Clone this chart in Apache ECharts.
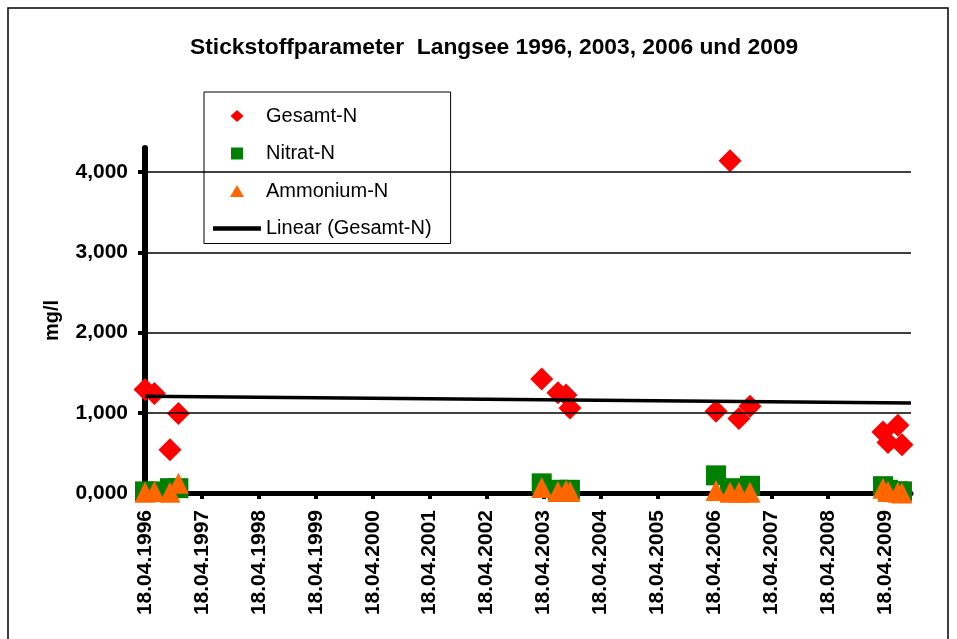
<!DOCTYPE html>
<html>
<head>
<meta charset="utf-8">
<script src="https://cdn.jsdelivr.net/npm/echarts@6/dist/echarts.min.js"></script>
<style>
  html, body { margin: 0; padding: 0; background: #fff; }
  #chart { width: 957px; height: 639px; }
</style>
</head>
<body>
<div id="chart"></div>
<script>
// Probenahmetermine
const sampleDates = [
  '1996-04-18', '1996-06-17', '1996-09-25', '1996-11-18',
  '2003-04-07', '2003-07-20', '2003-09-10', '2003-10-05',
  '2006-04-29', '2006-07-28', '2006-09-23', '2006-12-03',
  '2009-04-04', '2009-05-06', '2009-07-09', '2009-08-04'
];
// mg/l
const gesamtN = [1.29, 1.24, 0.54, 0.99, 1.42, 1.25, 1.22, 1.06, 1.02, 4.14, 0.93, 1.08, 0.76, 0.63, 0.845, 0.60];
const nitratN = [0.02, 0.02, 0.06, 0.06, 0.12, 0.04, 0.03, 0.04, 0.22, 0.06, 0.05, 0.09, 0.085, 0.04, 0.02, 0.02];
const ammoniumN = [0.01, 0.02, 0.01, 0.12, 0.07, 0.02, 0.03, 0.02, 0.03, 0.01, 0.01, 0.01, 0.06, 0.02, 0.01, 0.00];

// Trendlinie (Linear Gesamt-N), Werte an den Achsenenden
const trendDates = ['1996-04-18', '2009-10-01'];
const trendValues = [1.207, 1.123];

const xTickYears = [1996, 1997, 1998, 1999, 2000, 2001, 2002, 2003, 2004, 2005, 2006, 2007, 2008, 2009];
const yTicks = [0, 1, 2, 3, 4];

const FONT = '"Liberation Sans", Arial, sans-serif';
const DAY = 86400000;
const YEAR = 365.25;
const origin = Date.UTC(1996, 3, 18);

function toDays(s) {
  const [y, m, d] = s.split('-').map(Number);
  return (Date.UTC(y, m - 1, d) - origin) / DAY;
}
function pad(n) {
  return n < 10 ? '0' + n : '' + n;
}
function fmtDate(v) {
  const d = new Date(origin + v * DAY);
  return pad(d.getUTCDate()) + '.' + pad(d.getUTCMonth() + 1) + '.' + d.getUTCFullYear();
}

const xDays = sampleDates.map(toDays);
const xTicks = xTickYears.map((y) => (y - xTickYears[0]) * YEAR);
const pts = (vals) => vals.map((v, i) => [xDays[i], v]);

const chart = echarts.init(document.getElementById('chart'));
chart.setOption({
  animation: false,
  backgroundColor: '#fff',
  title: {
    text: 'Stickstoffparameter  Langsee 1996, 2003, 2006 und 2009',
    left: 185,
    top: 31,
    textStyle: { fontSize: 22.8, fontWeight: 'bold', color: '#000', fontFamily: FONT }
  },
  graphic: [
    {
      type: 'rect',
      shape: { x: 8, y: 8, width: 940, height: 650 },
      style: { fill: null, stroke: '#000', lineWidth: 1.5 },
      silent: true
    }
  ],
  legend: {
    orient: 'vertical',
    left: 204,
    top: 92,
    padding: [14, 19, 5, 9],
    itemGap: 17.5,
    itemWidth: 48,
    itemHeight: 12,
    borderColor: '#000',
    borderWidth: 1,
    backgroundColor: '#fff',
    textStyle: { fontSize: 20, color: '#000', fontFamily: FONT },
    // kleine Symbole wie in Excel, Seitenverhältnis über die Pfade
    data: [
      { name: 'Gesamt-N', icon: 'path://M6.5,0L13,6L6.5,12L0,6Z' },
      { name: 'Nitrat-N', icon: 'path://M0,0L11.5,0L11.5,11.5L0,11.5Z' },
      { name: 'Ammonium-N', icon: 'path://M7,0L14,12L0,12Z' },
      { name: 'Linear (Gesamt-N)', icon: 'path://M0,0L48,0L48,4.5L0,4.5Z' }
    ]
  },
  grid: { left: 145, right: 46, top: 148, bottom: 146, outerBoundsMode: 'none' },
  xAxis: {
    type: 'value',
    min: 0,
    max: toDays(trendDates[1]),
    interval: YEAR,
    axisLine: { lineStyle: { color: '#000', width: 5 } },
    axisTick: { length: 6, lineStyle: { color: '#000', width: 4 }, customValues: xTicks },
    axisLabel: {
      customValues: xTicks,
      rotate: 90,
      margin: 17,
      fontSize: 21,
      fontWeight: 'bold',
      color: '#000',
      fontFamily: FONT,
      formatter: fmtDate
    },
    splitLine: { show: false }
  },
  yAxis: {
    type: 'value',
    min: 0,
    max: 4.3,
    interval: 1,
    name: 'mg/l',
    nameLocation: 'middle',
    nameGap: 83,
    nameTextStyle: { fontSize: 20, fontWeight: 'bold', color: '#000', fontFamily: FONT },
    axisLine: { show: true, lineStyle: { color: '#000', width: 6 } },
    axisTick: { show: true, length: 7, lineStyle: { color: '#000', width: 4 }, customValues: yTicks },
    axisLabel: {
      customValues: yTicks,
      margin: 17,
      fontSize: 21,
      fontWeight: 'bold',
      color: '#000',
      fontFamily: FONT,
      formatter: (v) => v.toFixed(3).replace('.', ',')
    },
    splitLine: { show: false }
  },
  series: [
    {
      name: 'Gesamt-N',
      type: 'scatter',
      symbol: 'diamond',
      symbolSize: 23,
      itemStyle: { color: '#ff0000', opacity: 1 },
      data: pts(gesamtN)
    },
    {
      name: 'Nitrat-N',
      type: 'scatter',
      symbol: 'rect',
      symbolSize: 20,
      itemStyle: { color: '#008000', opacity: 1 },
      data: pts(nitratN)
    },
    {
      name: 'Ammonium-N',
      type: 'scatter',
      symbol: 'triangle',
      symbolSize: 21,
      itemStyle: { color: '#ff6600', opacity: 1 },
      data: pts(ammoniumN)
    },
    {
      name: 'Linear (Gesamt-N)',
      type: 'line',
      symbol: 'none',
      z: 5,
      color: '#000',
      itemStyle: { color: '#000' },
      lineStyle: { color: '#000', width: 3.5 },
      data: trendDates.map((d, i) => [toDays(d), trendValues[i]]),
      markLine: {
        silent: true,
        symbol: 'none',
        label: { show: false },
        lineStyle: { color: '#000', width: 1.5, type: 'solid' },
        data: yTicks.filter((v) => v > 0).map((v) => ({ yAxis: v }))
      }
    }
  ]
});
</script>
</body>
</html>
